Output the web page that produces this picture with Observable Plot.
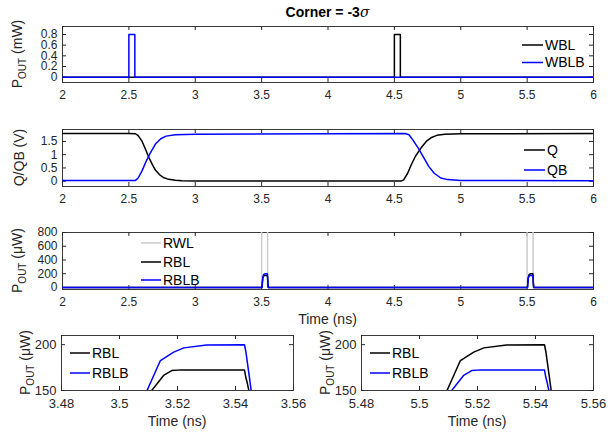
<!DOCTYPE html>
<html><head><meta charset="utf-8">
<script src="https://cdn.jsdelivr.net/npm/d3@7"></script>
<script src="https://cdn.jsdelivr.net/npm/@observablehq/plot@0.6"></script>
<style>
body{margin:0;background:#fff;}
#wrap{position:relative;width:608px;height:435px;background:#fff;font-family:"Liberation Sans",Arial,Helvetica,sans-serif;}
#wrap svg{position:absolute;}
</style></head>
<body><div id="wrap"></div>
<script>
// ---------- data ----------
const titleText = "Corner = -3";
const xTicksMain = [2, 2.5, 3, 3.5, 4, 4.5, 5, 5.5, 6];
const xTicksZoomL = [3.48, 3.5, 3.52, 3.54, 3.56];
const xTicksZoomR = [5.48, 5.5, 5.52, 5.54, 5.56];
const yTicksW = [0, 0.2, 0.4, 0.6, 0.8];
const yTicksQ = [0, 0.5, 1, 1.5];
const yTicksR = [0, 200, 400, 600, 800];
const yTicksZ = [150, 200];

// write powers (mW)
const wblT  = [2, 4.5, 4.5, 4.545, 4.545, 6];
const wblP  = [0, 0, 0.8, 0.8, 0, 0];
const wblbT = [2, 2.5, 2.5, 2.545, 2.545, 6];
const wblbP = [0, 0, 0.8, 0.8, 0, 0];

// storage nodes (V)
const qT  = [2, 2.5, 2.55, 2.57, 2.6, 2.63, 2.65, 2.68, 2.7, 2.73, 2.76, 2.8, 2.85, 2.9, 3.0, 3.5, 4.55, 4.57, 4.6, 4.63, 4.66, 4.7, 4.74, 4.78, 4.82, 4.88, 5.0, 6];
const qV  = [1.8, 1.8, 1.79, 1.72, 1.5, 1.15, 0.9, 0.6, 0.42, 0.25, 0.14, 0.07, 0.035, 0.02, 0.01, 0.005, 0.005, 0.05, 0.3, 0.65, 0.95, 1.25, 1.5, 1.65, 1.73, 1.77, 1.79, 1.8];
const qbT = [2, 2.55, 2.57, 2.6, 2.63, 2.66, 2.7, 2.74, 2.78, 2.85, 3.0, 4.0, 4.58, 4.61, 4.64, 4.68, 4.72, 4.76, 4.8, 4.85, 4.9, 5.0, 6];
const qbV = [0.03, 0.03, 0.12, 0.4, 0.75, 1.05, 1.4, 1.6, 1.7, 1.75, 1.77, 1.79, 1.8, 1.75, 1.55, 1.25, 0.9, 0.55, 0.3, 0.12, 0.06, 0.03, 0.02];

// read powers (uW)
const rwlT = [2, 3.5, 3.5, 3.545, 3.545, 5.5, 5.5, 5.545, 5.545, 6];
const rwlP = [0, 0, 900, 900, 0, 0, 900, 900, 0, 0];
const rblT = [2, 3.503, 3.506, 3.5085, 3.5111, 3.5152, 3.518, 3.5213, 3.53, 3.5431, 3.5435, 3.544, 3.5446, 3.547, 3.55,
              5.503, 5.506, 5.508, 5.5095, 5.5141, 5.5187, 5.5222, 5.53, 5.5431, 5.5436, 5.5446, 5.5454, 5.547, 5.55, 6];
const rblP = [0, 0, 80, 130, 150, 166.4, 171.8, 172.5, 172.5, 172.5, 165, 159, 150, 60, 0,
              0, 80, 130, 150, 182.7, 191.8, 196.5, 199.6, 199.9, 191.8, 169, 150, 60, 0, 0];
const rblbT = [2, 3.503, 3.506, 3.508, 3.5095, 3.5141, 3.5187, 3.5222, 3.53, 3.5431, 3.5436, 3.5446, 3.5454, 3.547, 3.55,
               5.503, 5.506, 5.5085, 5.5111, 5.5152, 5.518, 5.5213, 5.53, 5.5431, 5.5435, 5.544, 5.5446, 5.547, 5.55, 6];
const rblbP = [0, 0, 80, 130, 150, 182.7, 191.8, 196.5, 199.6, 199.9, 191.8, 169, 150, 60, 0,
               0, 80, 130, 150, 166.4, 171.8, 172.5, 172.5, 172.5, 165, 159, 150, 60, 0, 0];

const cBlack = "#000000", cBlue = "#0000ff", cGray = "#cccccc";
const series = (t, v, name) => t.map((x, i) => ({t: x, v: v[i], s: name}));

const wbl = series(wblT, wblP, "WBL"), wblb = series(wblbT, wblbP, "WBLB");
const q = series(qT, qV, "Q"), qb = series(qbT, qbV, "QB");
const rwl = series(rwlT, rwlP, "RWL"), rbl = series(rblT, rblP, "RBL"), rblb = series(rblbT, rblbP, "RBLB");

// ---------- drawing ----------
const FONT = '"Liberation Sans", Arial, Helvetica, sans-serif';
const AX = "#262626";
const wrap = document.getElementById("wrap");

function panel(o) {
  const pw = o.width - o.ml - o.mr, ph = o.height - o.mt - o.mb;
  const marks = [
    Plot.frame({stroke: "#3a3a3a", strokeWidth: 1}),
    Plot.axisX({ticks: o.xTicks, tickSize: 0, tickPadding: o.xPad ?? 8, tickFormat: d => String(d), label: null, fontSize: o.fs ?? 12, fill: AX}),
    Plot.axisY({ticks: o.yTicks, tickSize: 0, tickPadding: 5, tickFormat: d => String(d), label: null, fontSize: o.fs ?? 12, fill: AX}),
    Plot.tickX(o.xTicks, {x: d => d, insetTop: ph - 4, stroke: AX}),
    Plot.tickX(o.xTicks, {x: d => d, insetBottom: ph - 4, stroke: AX}),
    Plot.tickY(o.yTicks, {y: d => d, insetRight: pw - 4, stroke: AX}),
    Plot.tickY(o.yTicks, {y: d => d, insetLeft: pw - 4, stroke: AX}),
    ...o.lines.map(L => Plot.line(L.data, {x: "t", y: "v", stroke: L.color, strokeWidth: 1.5, clip: true}))
  ];
  const svg = Plot.plot({
    width: o.width, height: o.height,
    marginTop: o.mt, marginBottom: o.mb, marginLeft: o.ml, marginRight: o.mr,
    style: {fontFamily: FONT, fontSize: "12px", background: "transparent", overflow: "visible", color: AX},
    x: {domain: o.xDomain}, y: {domain: o.yDomain},
    marks
  });
  svg.style.left = o.left + "px";
  svg.style.top = o.top + "px";
  const s = d3.select(svg);
  // y label
  const yl = s.append("text")
    .attr("transform", `translate(${o.ylx},${o.mt + ph / 2}) rotate(-90)`)
    .attr("text-anchor", "middle").attr("font-size", 14).attr("fill", AX).attr("font-family", FONT);
  o.ylabel.forEach(part => {
    const ts = yl.append("tspan").text(part.t);
    if (part.sub) ts.attr("font-size", 10).attr("dy", 4);
    if (part.back) ts.attr("dy", -4);
  });
  // x label
  if (o.xlabel) {
    s.append("text").attr("x", o.ml + pw / 2).attr("y", o.height - o.mb + o.xly).attr("dy", "0.35em")
      .attr("text-anchor", "middle").attr("font-size", 14).attr("fill", AX).attr("font-family", FONT)
      .text(o.xlabel);
  }
  // legend
  o.legend.items.forEach((it, i) => {
    const y = o.legend.y[i] - o.top;
    s.append("line").attr("x1", o.legend.x1 - o.left).attr("x2", o.legend.x2 - o.left)
      .attr("y1", y).attr("y2", y).attr("stroke", it.color).attr("stroke-width", 1.5);
    s.append("text").attr("x", o.legend.x2 - o.left + 2).attr("y", y).attr("dy", "0.35em")
      .attr("text-anchor", "start")
      .attr("font-size", 14).attr("fill", "#000").attr("font-family", FONT).text(it.name);
  });
  if (o.title) {
    const t = s.append("text").attr("x", o.ml + pw / 2).attr("y", 12 - o.top).attr("dy", "0.35em")
      .attr("text-anchor", "middle").attr("font-size", 14).attr("font-weight", "bold").attr("fill", "#000").attr("font-family", FONT);
    t.append("tspan").text(titleText);
    t.append("tspan").attr("font-style", "italic").attr("font-weight", "normal").attr("font-family", "DejaVu Serif, serif").text("\u03C3");
  }
  wrap.appendChild(svg);
}

const pOutMW = [{t: "P"}, {t: "OUT", sub: true}, {t: " (mW)", back: true}];
const pOutUW = [{t: "P"}, {t: "OUT", sub: true}, {t: " (\u03BCW)", back: true}];

panel({left: 0, top: 0, width: 608, height: 104, mt: 26, mb: 22, ml: 62, mr: 15,
  xDomain: [2, 6], yDomain: [-0.1, 0.95], xTicks: xTicksMain, yTicks: yTicksW, ylx: 22, ylabel: pOutMW, title: true,
  lines: [{data: wbl, color: cBlack}, {data: wblb, color: cBlue}],
  legend: {x1: 522, x2: 543, y: [45, 62.5], items: [{name: "WBL", color: cBlack}, {name: "WBLB", color: cBlue}]}});

panel({left: 0, top: 104, width: 608, height: 100, mt: 25, mb: 18, ml: 62, mr: 15,
  xDomain: [2, 6], yDomain: [-0.2, 1.95], xTicks: xTicksMain, yTicks: yTicksQ, ylx: 24, ylabel: [{t: "Q/QB (V)"}],
  lines: [{data: q, color: cBlack}, {data: qb, color: cBlue}],
  legend: {x1: 524, x2: 545, y: [150, 170], items: [{name: "Q", color: cBlack}, {name: "QB", color: cBlue}]}});

panel({left: 0, top: 204, width: 608, height: 120, mt: 28, mb: 35, ml: 62, mr: 15,
  xDomain: [2, 6], yDomain: [-30, 800], xTicks: xTicksMain, yTicks: yTicksR, ylx: 22, ylabel: pOutUW,
  xlabel: "Time (ns)", xly: 30,
  lines: [{data: rwl, color: cGray}, {data: rbl, color: cBlack}, {data: rblb, color: cBlue}],
  legend: {x1: 141, x2: 161, y: [243, 262, 280], items: [{name: "RWL", color: cGray}, {name: "RBL", color: cBlack}, {name: "RBLB", color: cBlue}]}});

panel({left: 0, top: 324, width: 304, height: 111, mt: 11, mb: 45, ml: 61, mr: 11,
  xDomain: [3.48, 3.56], yDomain: [150, 210], xTicks: xTicksZoomL, yTicks: yTicksZ, ylx: 30, ylabel: pOutUW,
  xlabel: "Time (ns)", xly: 31, fs: 13,
  lines: [{data: rbl, color: cBlack}, {data: rblb, color: cBlue}],
  legend: {x1: 70, x2: 90, y: [353, 373], items: [{name: "RBL", color: cBlack}, {name: "RBLB", color: cBlue}]}});

panel({left: 304, top: 324, width: 304, height: 111, mt: 11, mb: 45, ml: 57, mr: 15,
  xDomain: [5.48, 5.56], yDomain: [150, 210], xTicks: xTicksZoomR, yTicks: yTicksZ, ylx: 26, ylabel: pOutUW,
  xlabel: "Time (ns)", xly: 31, fs: 13,
  lines: [{data: rbl, color: cBlack}, {data: rblb, color: cBlue}],
  legend: {x1: 370, x2: 390, y: [353, 373], items: [{name: "RBL", color: cBlack}, {name: "RBLB", color: cBlue}]}});
</script>
</body></html>
